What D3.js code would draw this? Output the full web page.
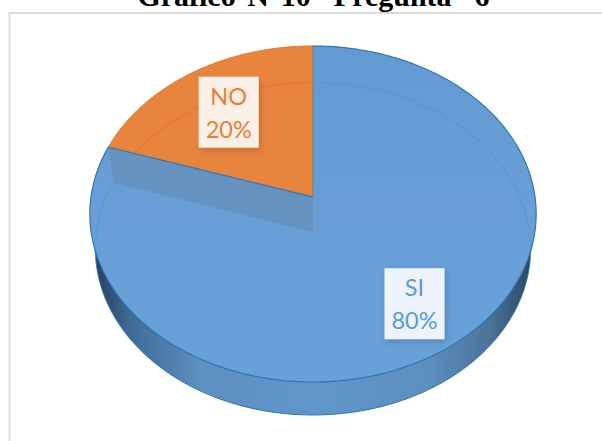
<!DOCTYPE html>
<html><head><meta charset="utf-8">
<script src="https://cdn.jsdelivr.net/npm/d3@7/dist/d3.min.js"></script>
<style>html,body{margin:0;padding:0;background:#fff}svg{display:block}</style>
</head><body><div id="c"></div>
<script>
const chartTitle = "Gráfico N°10  Pregunta  6";
const categories = ["SI", "NO"];
const values = [80, 20];
const labels = ["80%", "20%"];
const fills = ["#669ed6", "#e9843f"];
const textColors = ["#5b9bd5", "#ed7d31"];
const boxFills = ["#eef3fb", "#fbf0e8"];
const rimColors = ["#5b94d0", "#e0762f"];
const labelRadius = [0.745, 0.665];

const W = 602, H = 441;
const svg = d3.select("#c").append("svg").attr("width", W).attr("height", H);
const defs = svg.append("defs");

// perspective projection of a unit disk; u to the right, v towards the viewer
const P = -0.101;
const project = (cx, cy, a, b) => (ang, r = 1) => {
  const u = r * Math.sin(ang), v = -r * Math.cos(ang), d = 1 + P * v;
  return [cx + b * u / d, cy + a * v / d];
};
const topDisk = project(313, 197, 166.3, 222);
const botDisk = project(313, 232, 164.5, 216.5);

const slices = d3.pie().sort(null).value(d => d)(values);
const line = d3.line();
const sample = (f, a0, a1, n = 200) => d3.range(n + 1).map(i => f(a0 + (a1 - a0) * i / n));
const wedge = (f, s) => line([f(0, 0), ...sample(f, s.startAngle, s.endAngle)]) + "Z";

// gradients
const side = defs.append("linearGradient").attr("id", "side").attr("gradientUnits", "userSpaceOnUse")
  .attr("x1", 95).attr("x2", 531).attr("y1", 0).attr("y2", 0);
[[0, "#263f5c"], [.08, "#3f6a96"], [.24, "#5d8fc0"], [.5, "#6096c9"], [.76, "#5d8fc0"], [.91, "#4b7299"], [1, "#2b4563"]]
  .forEach(([o, c]) => side.append("stop").attr("offset", o).attr("stop-color", c));
const face = defs.append("linearGradient").attr("id", "face").attr("gradientUnits", "userSpaceOnUse")
  .attr("x1", 0).attr("x2", 0).attr("y1", 46).attr("y2", 382);
[[0, "#629bd3"], [.5, "#699fd6"], [1, "#67a1d7"]]
  .forEach(([o, c]) => face.append("stop").attr("offset", o).attr("stop-color", c));
const sh = defs.append("filter").attr("id", "sh").attr("x", "-30%").attr("y", "-30%").attr("width", "160%").attr("height", "160%");
sh.append("feDropShadow").attr("dx", 2).attr("dy", 3).attr("stdDeviation", 3).attr("flood-color", "#000").attr("flood-opacity", .16);

// frame
svg.append("path").attr("d", `M9.5 ${H}V13H${W}`).attr("fill", "none").attr("stroke", "#dcdcdc").attr("stroke-width", 2);

// title
svg.append("text").attr("x", 313.5).attr("y", 5.5).attr("text-anchor", "middle")
  .attr("font-family", "'Liberation Serif'").attr("font-weight", 700).attr("font-size", 30)
  .attr("word-spacing", 4).style("white-space", "pre").attr("fill", "#000").text(chartTitle);

// lower disk gives the visible side wall
svg.append("path").attr("d", line(sample(botDisk, 0, 2 * Math.PI, 360)) + "Z")
  .attr("fill", "url(#side)").attr("stroke", "#2e75b6").attr("stroke-width", 1);

// top face
svg.selectAll("path.face").data(slices).join("path").attr("class", "face")
  .attr("d", d => wedge(topDisk, d))
  .attr("fill", (d, i) => i === 0 ? "url(#face)" : fills[i])
  .attr("stroke", (d, i) => i === 0 ? "none" : "#dd7428").attr("stroke-width", 1);

// rim of the lower disk seen through the face
slices.forEach((s, i) => {
  const pts = sample(a => botDisk(a), s.startAngle, s.endAngle, 300).filter(p => p[1] < 258);
  const runs = [[]];
  pts.forEach((p, k) => {
    if (k && Math.hypot(p[0] - pts[k - 1][0], p[1] - pts[k - 1][1]) > 30) runs.push([]);
    runs[runs.length - 1].push(p);
  });
  runs.forEach(r => svg.append("path").attr("d", line(r)).attr("fill", "none")
    .attr("stroke", rimColors[i]).attr("stroke-width", 1.3).attr("stroke-opacity", .75));
});

// inner wall below the wedge edge
const a = slices[1].startAngle;
svg.append("path")
  .attr("d", line([topDisk(a), topDisk(0, 0), botDisk(0, 0), botDisk(a)]) + "Z")
  .attr("fill", "#6592bf").attr("stroke", "none");
svg.append("path").attr("d", line([botDisk(a), botDisk(0, 0)])).attr("fill", "none").attr("stroke", "#5f9ad6").attr("stroke-width", 1);
svg.append("path").attr("d", line([topDisk(a), topDisk(0, 0)])).attr("fill", "none").attr("stroke", "#3d78b8").attr("stroke-width", 1.4);
svg.append("path").attr("d", line([topDisk(0, 0), topDisk(0)])).attr("fill", "none").attr("stroke", "#4f8ac6").attr("stroke-width", 1);

// outer edges
svg.append("path").attr("d", line(sample(topDisk, slices[0].startAngle, slices[0].endAngle, 300)))
  .attr("fill", "none").attr("stroke", "#2e75b6").attr("stroke-width", 1.2);

// labels
const boxW = 60, boxH = 71;
slices.forEach((s, i) => {
  const mid = (s.startAngle + s.endAngle) / 2;
  const [x, y] = topDisk(mid, labelRadius[i]);
  const g = svg.append("g").attr("transform", `translate(${x - 2},${y})`);
  g.append("rect").attr("x", -boxW / 2).attr("y", -boxH / 2).attr("width", boxW).attr("height", boxH)
    .attr("fill", boxFills[i]).attr("filter", "url(#sh)");
  g.selectAll("text").data([categories[i], labels[i]]).join("text")
    .attr("text-anchor", "middle").attr("y", (d, k) => k === 0 ? -7.5 : 25.5)
    .attr("font-family", "Lato").attr("font-size", 23.5).attr("fill", textColors[i]).text(d => d);
});
</script></body></html>
